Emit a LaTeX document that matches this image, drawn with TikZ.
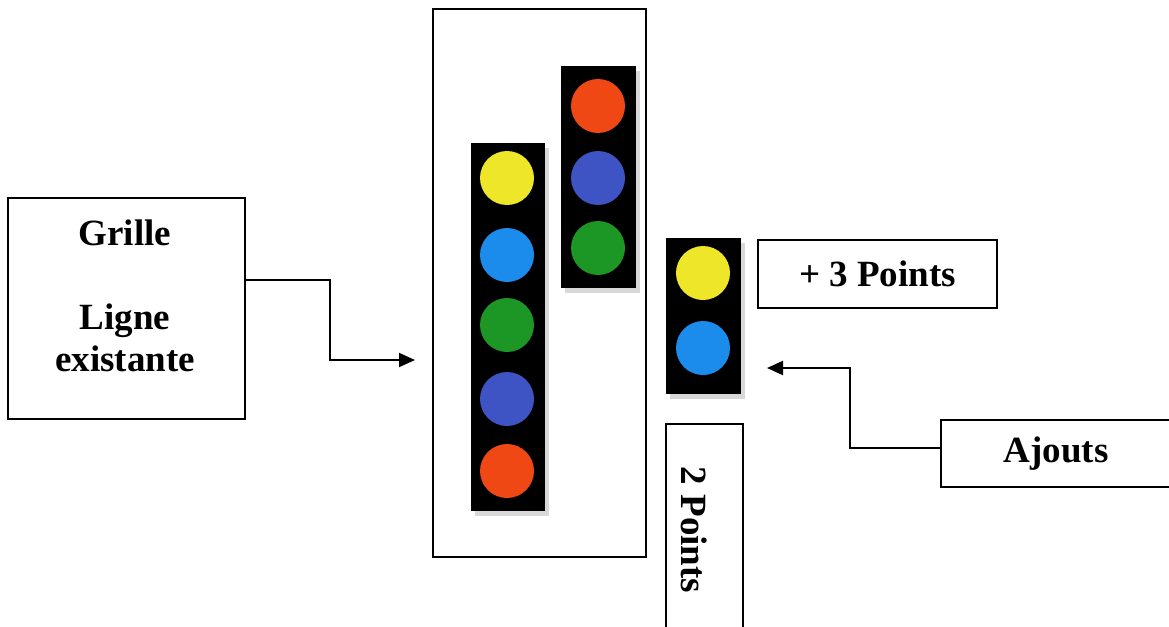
\documentclass[tikz,border=0pt]{standalone}
\usepackage{fontspec}
\setmainfont{Liberation Serif}
\usetikzlibrary{arrows.meta,shadows}
\definecolor{cyel}{RGB}{238,230,40}
\definecolor{cblu}{RGB}{28,140,236}
\definecolor{cgrn}{RGB}{28,150,36}
\definecolor{cdbl}{RGB}{62,84,196}
\definecolor{cred}{RGB}{240,72,20}
\tikzset{
  boxn/.style={draw=black, line width=2pt, fill=white, inner sep=0pt},
  txt/.style={font=\fontsize{37}{42}\selectfont\bfseries, align=center, inner sep=0pt},
  strip/.style={fill=black, inner sep=0pt, drop shadow={opacity=0.3, shadow xshift=4pt, shadow yshift=-5pt}},
  lamp/.style={circle, inner sep=0pt, minimum size=54pt},
  conn/.style={line width=2pt, -{Triangle[length=16pt,width=14pt]}}
}
\begin{document}
\begin{tikzpicture}[x=1pt,y=-1pt]
\useasboundingbox[fill=white] (0,0) rectangle (1169,626);
% left box
\node[boxn, minimum width=237pt, minimum height=221pt] (grille) at (126.5,308.5) {};
\node[txt] (grilletxt) at (125,296) {Grille\\\mbox{}\\Ligne\\existante};
% frame
\node[boxn, minimum width=213pt, minimum height=547pt] (frame) at (539.5,283) {};
% strip 1
\node[strip, minimum width=74pt, minimum height=368pt] (s1) at (508,327) {};
\node[lamp, fill=cyel] (s1a) at (507,178) {};
\node[lamp, fill=cblu] (s1b) at (507,255) {};
\node[lamp, fill=cgrn] (s1c) at (507,325) {};
\node[lamp, fill=cdbl] (s1d) at (507,399) {};
\node[lamp, fill=cred] (s1e) at (507,471) {};
% strip 2
\node[strip, minimum width=75pt, minimum height=222pt] (s2) at (598.5,177) {};
\node[lamp, fill=cred] (s2a) at (598,106) {};
\node[lamp, fill=cdbl] (s2b) at (598,178) {};
\node[lamp, fill=cgrn] (s2c) at (598,248) {};
% strip 3
\node[strip, minimum width=75pt, minimum height=156pt] (s3) at (703.5,316) {};
\node[lamp, fill=cyel] (s3a) at (703,273) {};
\node[lamp, fill=cblu] (s3b) at (703,348) {};
% +3 points
\node[boxn, minimum width=239pt, minimum height=68pt, txt] (p3) at (877.5,274) {+ 3 Points};
% 2 points
\node[boxn, minimum width=77pt, minimum height=212pt] (p2) at (704.5,530) {};
\node[txt, rotate=-90] (p2txt) at (694,530) {2 Points};
% ajouts
\node[boxn, minimum width=230pt, minimum height=67pt, txt] (aj) at (1056,453.5) {Ajouts};
% connectors
\coordinate (t1) at (415,360);
\coordinate (t2) at (767,368);
\draw[conn] ([yshift=29pt]grille.east) -- ++(84,0) |- (t1);
\draw[conn] ([yshift=5.5pt]aj.west) -- ++(-90,0) |- (t2);
\end{tikzpicture}
\end{document}
